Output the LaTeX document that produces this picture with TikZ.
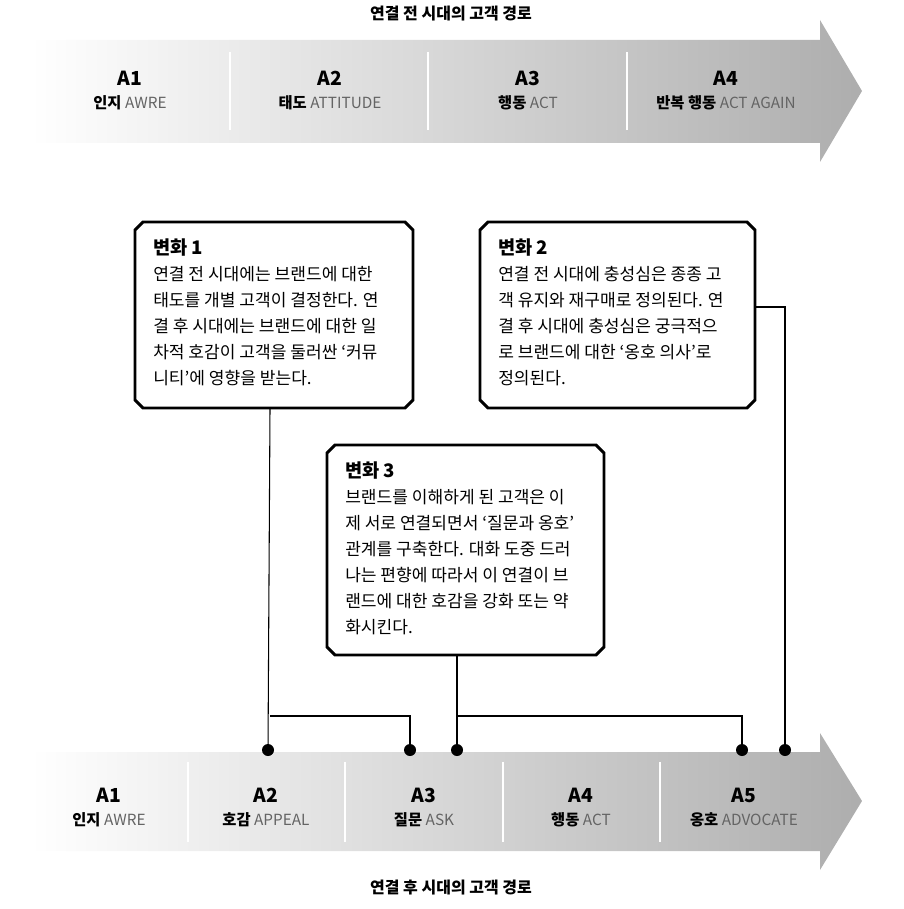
\documentclass[tikz,border=0pt]{standalone}
\usepackage{fontspec}
\setmainfont{Noto Sans CJK KR}
\begin{document}
\begin{tikzpicture}[x=0.75pt,y=-0.75pt,
  lbl/.style={font=\fontsize{14.5}{16}\selectfont\bfseries},
  sub/.style={font=\fontsize{11.5}{13}\selectfont},
  txt/.style={align=left,anchor=north west,font=\fontsize{12.8}{19.5}\selectfont,inner sep=0pt},
  con/.style={line width=0.8pt},
  dot/.style={circle,fill=black,inner sep=0pt,minimum size=9pt}]
\useasboundingbox (0,0) rectangle (903,909);
\definecolor{gr}{RGB}{100,100,100}
% top arrow
\shade[left color=white,right color=black!32] (30,40) -- (820,40) -- (820,20) -- (862,91) -- (820,162) -- (820,143) -- (30,143) -- cycle;
\foreach \x in {230,428,627} \draw[white,line width=1pt] (\x,52) -- (\x,130);
\node[font=\fontsize{12}{14}\selectfont\bfseries] (t1) at (451,14) {연결 전 시대의 고객 경로};
\node[lbl] (a1) at (130,78) {A1};
\node[sub] (s1) at (130,103) {\bfseries 인지 \mdseries\color{gr}AWRE};
\node[lbl] (a2) at (330,78) {A2};
\node[sub] (s2) at (330,103) {\bfseries 태도 \mdseries\color{gr}ATTITUDE};
\node[lbl] (a3) at (528,78) {A3};
\node[sub] (s3) at (528,103) {\bfseries 행동 \mdseries\color{gr}ACT};
\node[lbl] (a4) at (726,78) {A4};
\node[sub] (s4) at (726,103) {\bfseries 반복 행동 \mdseries\color{gr}ACT AGAIN};
% bottom arrow
\shade[left color=white,right color=black!32] (30,752) -- (820,752) -- (820,733) -- (862,801) -- (820,870) -- (820,851) -- (30,851) -- cycle;
\foreach \x in {188,345,503,660} \draw[white,line width=1pt] (\x,762) -- (\x,842);
\node[lbl] (b1) at (109,795) {A1};
\node[sub] (u1) at (109,820) {\bfseries 인지 \mdseries\color{gr}AWRE};
\node[lbl] (b2) at (266,795) {A2};
\node[sub] (u2) at (266,820) {\bfseries 호감 \mdseries\color{gr}APPEAL};
\node[lbl] (b3) at (424,795) {A3};
\node[sub] (u3) at (424,820) {\bfseries 질문 \mdseries\color{gr}ASK};
\node[lbl] (b4) at (581,795) {A4};
\node[sub] (u4) at (581,820) {\bfseries 행동 \mdseries\color{gr}ACT};
\node[lbl] (b5) at (744,795) {A5};
\node[sub] (u5) at (744,820) {\bfseries 옹호 \mdseries\color{gr}ADVOCATE};
\node[font=\fontsize{12}{14}\selectfont\bfseries] (t2) at (451,888) {연결 후 시대의 고객 경로};
% boxes
\draw[line width=2.2pt,fill=white] (143,222)--(405,222)--(413,230)--(413,400)--(405,408)--(143,408)--(135,400)--(135,230)--cycle;
\draw[line width=2.2pt,fill=white] (488,222)--(747,222)--(755,230)--(755,400)--(747,408)--(488,408)--(480,400)--(480,230)--cycle;
\draw[line width=2.2pt,fill=white] (335,445)--(596,445)--(604,453)--(604,647)--(596,655)--(335,655)--(327,647)--(327,453)--cycle;
\coordinate (c1) at (270,408);
\coordinate (c2) at (755,307);
\coordinate (c3) at (457,655);
\node[txt] (x1) at (153,238) {{\fontsize{14}{15}\selectfont\bfseries 변화 1}\\연결 전 시대에는 브랜드에 대한\\태도를 개별 고객이 결정한다. 연\\결 후 시대에는 브랜드에 대한 일\\차적 호감이 고객을 둘러싼 ‘커뮤\\니티’에 영향을 받는다.};
\node[txt] (x2) at (498,238) {{\fontsize{14}{15}\selectfont\bfseries 변화 2}\\연결 전 시대에 충성심은 종종 고\\객 유지와 재구매로 정의된다. 연\\결 후 시대에 충성심은 궁극적으\\로 브랜드에 대한 ‘옹호 의사’로\\정의된다.};
\node[txt] (x3) at (345,461) {{\fontsize{14}{15}\selectfont\bfseries 변화 3}\\브랜드를 이해하게 된 고객은 이\\제 서로 연결되면서 ‘질문과 옹호’\\관계를 구축한다. 대화 도중 드러\\나는 편향에 따라서 이 연결이 브\\랜드에 대한 호감을 강화 또는 약\\화시킨다.};
% dots
\node[dot] (d1) at (268,750) {};
\node[dot] (d2) at (410,750) {};
\node[dot] (d3) at (457,750) {};
\node[dot] (d4) at (742,750) {};
\node[dot] (d5) at (785,750) {};
\draw[con] (c1) -- (d1.center);
\draw[con] (270,716) -| (d2.center);
\draw[con] (c3) -- (d3.center);
\draw[con] (457,716) -| (d4.center);
\draw[con] (c2) -| (d5.center);
\end{tikzpicture}
\end{document}
